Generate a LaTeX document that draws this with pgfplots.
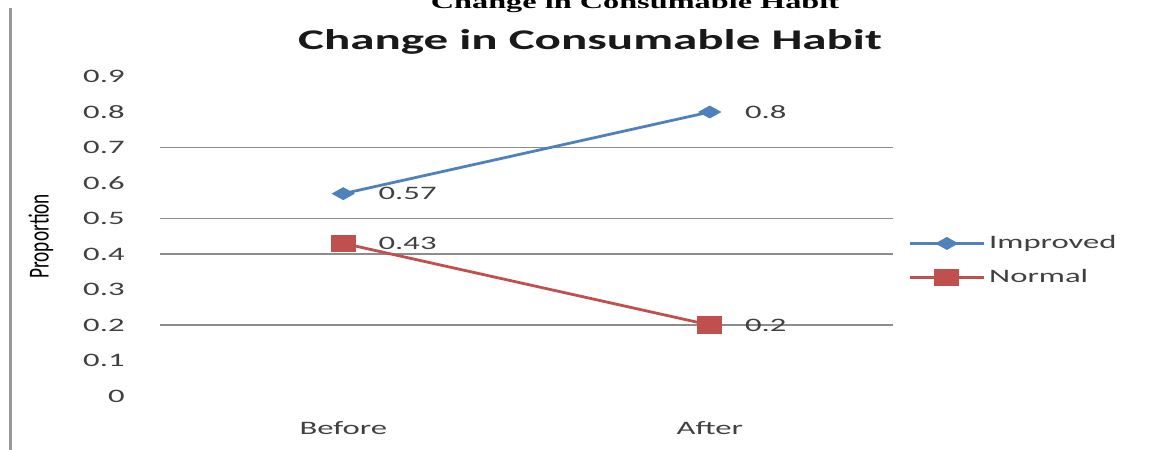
\documentclass[border=0pt]{standalone}
\usepackage{fontspec}
\usepackage{pgfplots}
\pgfplotsset{compat=1.18}
\setmainfont{Carlito}
\newfontfamily\widefont[FakeStretch=1.72]{Carlito}
\newfontfamily\narrowfont[FakeStretch=0.665]{Carlito}
\newfontfamily\captionfont[FakeStretch=1.7]{Liberation Serif}
\definecolor{seriesblue}{HTML}{4F81BD}
\definecolor{seriesred}{HTML}{C0504D}
\definecolor{gridgray}{HTML}{8C8C8C}
\definecolor{labelgray}{HTML}{404040}
\newcommand\chartsmall{\widefont\fontsize{9.5}{11}\selectfont}

\begin{document}
\begin{tikzpicture}[x=1pt,y=1pt]
% caption line of the surrounding document, cut by the page edge
\node[font=\captionfont\bfseries\fontsize{9.5}{11}\selectfont, anchor=base] at (317.5pt,220.5pt) {Change in Consumable Habit};
% frame on the left of the chart area
\draw[line width=1.5pt, color=black!40] (5pt,221pt) -- (5pt,0pt);
% chart title
\node[font=\widefont\bfseries\fontsize{14.25}{16}\selectfont, anchor=base, text=black!90] at (295pt,200pt) {Change in Consumable Habit};

\begin{axis}[
  at={(80pt,27pt)}, anchor=south west,
  scale only axis, width=366.5pt, height=159.75pt,
  xmin=-0.5, xmax=1.5, ymin=0, ymax=0.9,
  axis line style={draw=none},
  xtick={0,1}, xticklabels={Before,After},
  ytick={0,0.1,0.2,0.3,0.4,0.5,0.6,0.7,0.8,0.9},
  major tick length=0pt,
  tick style={draw=none},
  /pgf/number format/assume math mode=true,
  yticklabel style={font=\chartsmall, text=labelgray, anchor=east, inner sep=0pt, xshift=-17.5pt,
    /pgf/number format/fixed, /pgf/number format/precision=1},
  xticklabel style={font=\chartsmall, text=labelgray, anchor=center, inner sep=0pt, yshift=-16pt},
  extra y ticks={0.2,0.4,0.5,0.7},
  extra y tick labels={},
  extra y tick style={grid=major, major grid style={gridgray, line width=0.75pt}},
  ylabel={Proportion},
  ylabel style={at={(-0.1623,0.5)}, anchor=center, font=\narrowfont\fontsize{14.5}{16}\selectfont, inner sep=0pt},
  clip=false,
  nodes near coords, point meta=y,
  nodes near coords style={font=\chartsmall, text=labelgray, anchor=west, inner sep=0pt, xshift=17.5pt,
    /pgf/number format/fixed, /pgf/number format/precision=2},
  legend style={at={(1.0205,0.424)}, anchor=west, draw=none, fill=none, inner sep=0pt,
    row sep=5pt, font=\chartsmall, text=labelgray, cells={anchor=west}},
  legend image code/.code={\draw[mark repeat=2, mark phase=2, #1] plot coordinates {(0pt,0pt) (18.5pt,0pt) (37pt,0pt)};},
]
\addplot[seriesblue, line width=1.4pt, mark=diamond*, mark size=3pt,
  mark options={xscale=2.4, line width=0.4pt, fill=seriesblue}] coordinates {(0,0.57) (1,0.8)};
\addlegendentry{Improved}
\addplot[seriesred, line width=1.4pt, mark=square*, mark size=4.1pt,
  mark options={xscale=1.47, line width=0.4pt, fill=seriesred}] coordinates {(0,0.43) (1,0.2)};
\addlegendentry{Normal}
\end{axis}
\pgfresetboundingbox
\useasboundingbox (0,0) rectangle (576pt,225pt);
\end{tikzpicture}
\end{document}
